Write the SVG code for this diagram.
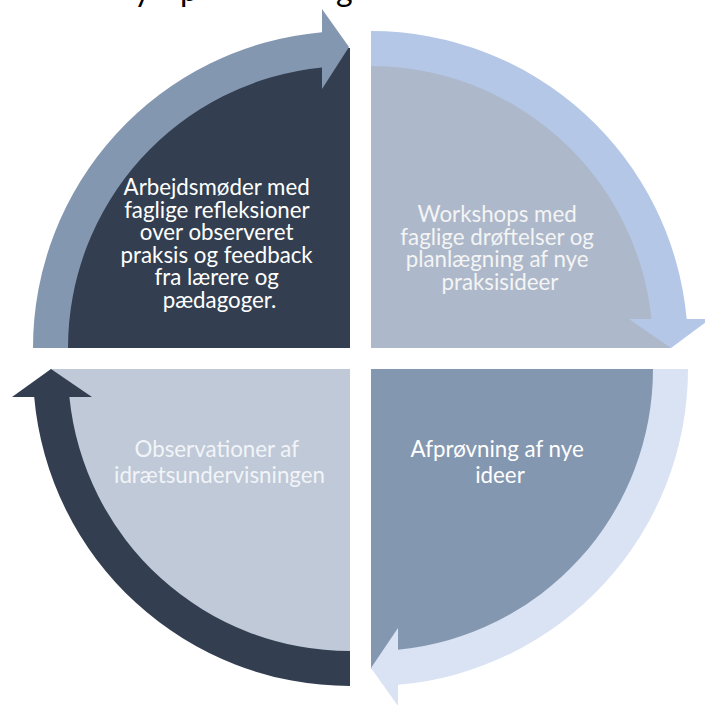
<svg xmlns="http://www.w3.org/2000/svg" width="705" height="705" viewBox="0 0 705 705">
  <style>
    .lbl { font-family: Lato, "Open Sans", sans-serif; font-size: 22.3px; text-anchor: middle; }
    .title { font-family: Lato, "Open Sans", sans-serif; font-size: 32px; fill: #000; }
  </style>
  <rect width="705" height="705" fill="#ffffff"/>
  <g id="title-fragment">
    <text class="title" x="134" y="1">y</text>
    <text class="title" x="180" y="1">p</text>
    <text class="title" x="336" y="1">g</text>
  </g>
  <g id="node-top-left">
    <path d="M350,348 L50,348 A300,300 0 0 1 350,48 Z" fill="#333F50"/>
    <text class="lbl" fill="#FFFFFF">
      <tspan x="219.5" y="195">Arbejdsmøder med</tspan>
      <tspan x="219.5" y="217.6">faglige refleksioner</tspan>
      <tspan x="219.5" y="240.2">over observeret</tspan>
      <tspan x="219.5" y="262.8">praksis og feedback</tspan>
      <tspan x="219.5" y="285.4">fra lærere og</tspan>
      <tspan x="219.5" y="308">pædagoger.</tspan>
    </text>
  </g>
  <g id="node-top-right">
    <path d="M371,348 L371,48 A300,300 0 0 1 671,348 Z" fill="#ADB9CA"/>
    <text class="lbl" fill="#F4F4F4">
      <tspan x="500" y="222">Workshops med</tspan>
      <tspan x="500" y="244.7">faglige drøftelser og</tspan>
      <tspan x="500" y="267.4">planlægning af nye</tspan>
      <tspan x="500" y="290">praksisideer</tspan>
    </text>
  </g>
  <g id="node-bottom-right">
    <path d="M371,369 L671,369 A300,300 0 0 1 371,669 Z" fill="#8497B0"/>
    <text class="lbl" fill="#FFFFFF">
      <tspan x="500" y="457">Afprøvning af nye</tspan>
      <tspan x="500" y="482.7">ideer</tspan>
    </text>
  </g>
  <g id="node-bottom-left">
    <path d="M350,369 L350,669 A300,300 0 0 1 50,369 Z" fill="#BFC9D8"/>
    <text class="lbl" fill="#F2F4F7">
      <tspan x="219.5" y="457">Observationer af</tspan>
      <tspan x="219.5" y="482.7">idrætsundervisningen</tspan>
    </text>
  </g>
  <g id="connectors">
    <g id="arrow-top-left" fill="#8497B0">
      <path d="M33,348 A317,317 0 0 1 322,32.2 L322,67.4 A282,282 0 0 0 68,348 Z"/>
      <polygon points="322,9 349,47 322,89"/>
    </g>
    <g id="arrow-top-right" fill="#B4C7E7">
      <path d="M371,31 A317,317 0 0 1 686.7,319 L651.5,319 A282,282 0 0 0 371,66 Z"/>
      <polygon points="629,319 710,319 671,348"/>
    </g>
    <g id="arrow-bottom-right" fill="#DAE3F3">
      <path d="M688,369 A317,317 0 0 1 398,684.8 L398,649.7 A282,282 0 0 0 653,369 Z"/>
      <polygon points="398,628 398,706 371,668"/>
    </g>
    <g id="arrow-bottom-left" fill="#333F50">
      <path d="M350,686 A317,317 0 0 1 34.2,397 L69.4,397 A282,282 0 0 0 350,651 Z"/>
      <polygon points="12,397 92,397 51,369"/>
    </g>
  </g>
</svg>
